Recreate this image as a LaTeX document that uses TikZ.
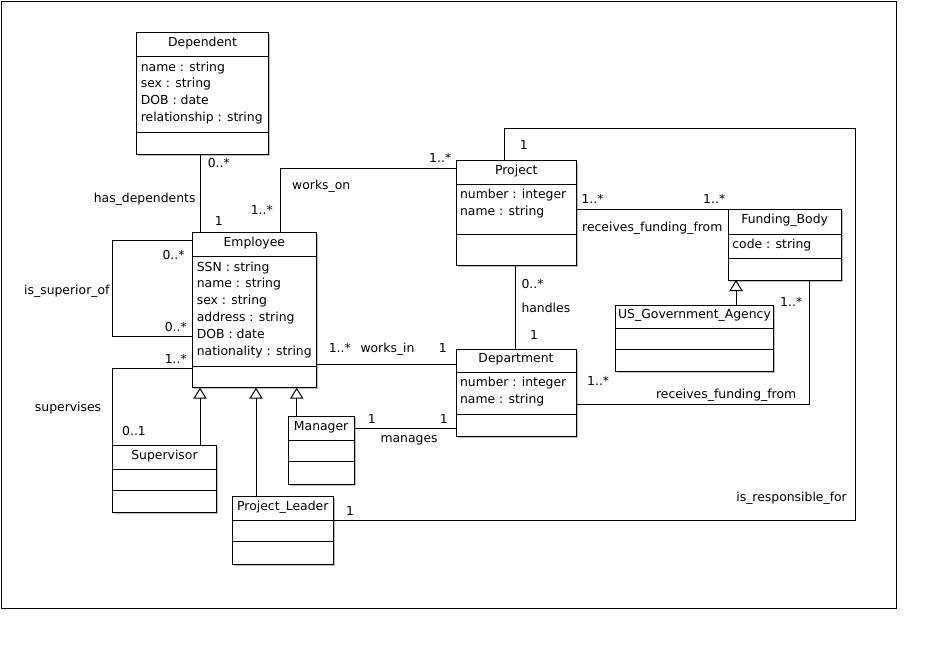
\documentclass[tikz,border=0pt]{standalone}
\usepackage{fontspec}
\setmainfont{DejaVu Sans}
\usetikzlibrary{arrows.meta,fit,shadows}

% class box: outer rectangle, two compartment rules and a centred title
\newcommand\umlclass[8]{%
  \node[cls={(#2,#3) (#4,#5)}] (#1) {};
  \draw (#2,#6) -- (#4,#6);
  \draw (#2,#7) -- (#4,#7);
  \node[title] (#1-title) at ({(#2+#4)/2},#3+13.8) {#8};
}
% attribute lines, one below the other
\newcommand\umlattrs[4]{%
  \foreach \t [count=\i] in {#4}
    \node[attr] (#1-a\i) at (#2+3.6, #3+14.3+16.8*\i-16.8) {\t};
}

\begin{document}
\begin{tikzpicture}[x=1pt,y=-1pt,line width=1pt,
  font=\fontsize{12.4}{15}\selectfont,
  cls/.style={draw, inner sep=0pt, outer sep=0pt, fit={#1}, fill=white,
    drop shadow={shadow xshift=1.5pt, shadow yshift=-1.5pt, opacity=0.25, fill=black}},
  title/.style={anchor=base, inner sep=0pt},
  attr/.style={anchor=base west, inner sep=0pt},
  lbl/.style={anchor=base west, inner sep=0pt},
  lblr/.style={anchor=base east, inner sep=0pt},
  gen/.style={-{Triangle[open, length=11pt, width=13.4pt]}}]

\useasboundingbox (0,0) rectangle (934,646);
\node[draw, inner sep=0pt, outer sep=0pt, fit={(1,1) (896.5,608)}] (frame) {};

% classes
\umlclass{dep}{136.7}{32.3}{268.3}{154.3}{56.7}{132.3}{Dependent}
\umlattrs{dep}{136.7}{56.7}{name : string, sex : string, DOB : date, relationship : string}

\umlclass{emp}{192.7}{232.3}{316}{387.7}{256.7}{366}{Employee}
\umlattrs{emp}{192.7}{256.7}{SSN : string, name : string, sex : string, address : string, DOB : date, nationality : string}

\umlclass{proj}{456}{160.7}{576.7}{265.7}{184.3}{234.3}{Project}
\umlattrs{proj}{456}{184.3}{number : integer, name : string}

\umlclass{dept}{456}{349}{576}{436}{372.3}{414.3}{Department}
\umlattrs{dept}{456}{372.3}{number : integer, name : string}

\umlclass{fb}{728.3}{209.3}{841}{280}{234.3}{258.3}{Funding\_Body}
\umlattrs{fb}{728.3}{234.3}{code : string}

\umlclass{us}{615.7}{305}{773.3}{371.7}{328.3}{349.3}{US\_Government\_Agency}
\umlclass{mgr}{288.3}{416.7}{354}{484}{440}{461}{Manager}
\umlclass{sup}{112.3}{445.3}{216.7}{512.3}{469.3}{490}{Supervisor}
\umlclass{pl}{232.3}{496.3}{333.3}{564.3}{520.3}{541.7}{Project\_Leader}

% associations
\draw ([xshift=64pt]dep.south west) -- ([xshift=8pt]emp.north west);
\draw ([xshift=87.3pt]emp.north west) |- ([yshift=-7.6pt]proj.north west);
\draw ([yshift=-8pt]emp.north west) -- ++(-80,0) |- ([yshift=-104pt]emp.north west);
\draw ([yshift=-136pt]emp.north west) -| ([xshift=0.4pt]sup.north west);
\draw ([yshift=-132pt]emp.north east) coordinate (wi) -- (wi -| dept.west);
\draw ([yshift=-11.6pt]mgr.north east) coordinate (ma) -- (ma -| dept.west);
\draw ([xshift=59pt]proj.south west) coordinate (ha) -- (ha |- dept.north);
\draw ([yshift=-48.6pt]proj.north east) coordinate (rf) -- (rf -| fb.west);
\draw ([yshift=-55.3pt]dept.north east) -| ([xshift=81pt]fb.south west);
\draw ([xshift=48.3pt]proj.north west) -- ++(0,-32.4) -- ++(351.4,0)
      |- ([yshift=-24pt]pl.north east);

% generalizations
\draw[gen] ([xshift=87.7pt]sup.north west) coordinate (g1) -- (g1 |- emp.south);
\draw[gen] ([xshift=23.7pt]pl.north west) coordinate (g2) -- (g2 |- emp.south);
\draw[gen] ([xshift=8.4pt]mgr.north west) coordinate (g3) -- (g3 |- emp.south);
\draw[gen] ([xshift=120.3pt]us.north west) coordinate (g4) -- (g4 |- fb.south);

% association names and multiplicities
\node[lbl]  (hd-m1)   at (207.3,167)   {0..*};
\node[lblr] (hd-name) at (196,202)     {has\_dependents};
\node[lbl]  (hd-m2)   at (214.3,225.7) {1};
\node[lblr] (wo-m1)   at (273.3,214.3) {1..*};
\node[lbl]  (wo-name) at (291.7,189.3) {works\_on};
\node[lblr] (wo-m2)   at (451.7,162.7) {1..*};
\node[lbl]  (ir-m1)   at (519.3,149.3) {1};
\node[lbl]  (ha-m1)   at (521,288.3)   {0..*};
\node[lbl]  (ha-name) at (521,312.3)   {handles};
\node[lbl]  (ha-m2)   at (529.7,339)   {1};
\node[lbl]  (wi-m1)   at (328.3,352.7) {1..*};
\node[lbl]  (wi-name) at (360,352.7)   {works\_in};
\node[lbl]  (wi-m2)   at (438.3,352.7) {1};
\node[lbl]  (rf1-m1)  at (581,203.3)   {1..*};
\node[lblr] (rf1-m2)  at (725.7,203.3) {1..*};
\node[lbl]  (rf1-name) at (581.7,231.7) {receives\_funding\_from};
\node[lblr] (rf2-m2)  at (802.7,306.7) {1..*};
\node[lbl]  (rf2-m1)  at (586.7,385)   {1..*};
\node[lblr] (rf2-name) at (796.7,398.3) {receives\_funding\_from};
\node[lblr] (ir-name) at (847.3,501.7) {is\_responsible\_for};
\node[lbl]  (ir-m2)   at (345.7,515)   {1};
\node[lbl]  (ma-m1)   at (367.3,423.3) {1};
\node[lbl]  (ma-m2)   at (439.3,423.3) {1};
\node[lbl]  (ma-name) at (380,442.3)   {manages};
\node[lblr] (so-name) at (110,294)     {is\_superior\_of};
\node[lblr] (so-m1)   at (185,259)     {0..*};
\node[lblr] (so-m2)   at (187.3,331.7) {0..*};
\node[lblr] (su-m1)   at (187.3,363.3) {1..*};
\node[lblr] (su-name) at (101.7,411)   {supervises};
\node[lbl]  (su-m2)   at (121.7,435)   {0..1};
\end{tikzpicture}
\end{document}
